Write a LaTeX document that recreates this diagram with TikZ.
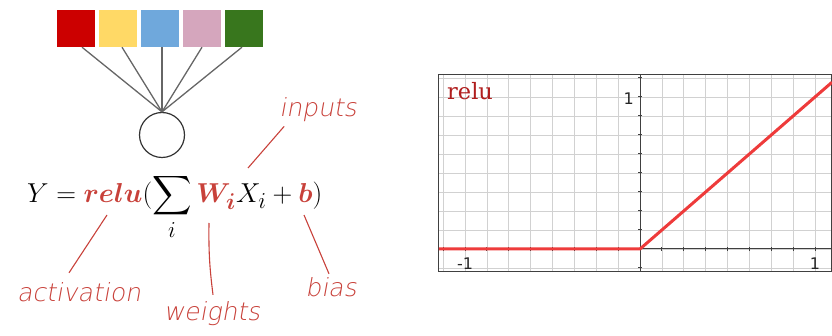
\documentclass[tikz,border=0pt]{standalone}
\usepackage{amsmath}
\usepackage{fontspec}
\newfontfamily\handfont[FakeSlant=0.18]{DejaVu Sans ExtraLight}
\newfontfamily\ticksfont{DejaVu Sans}
\newfontfamily\plotfont{DejaVu Serif}
\usetikzlibrary{calc}

\definecolor{sqred}{HTML}{CC0000}
\definecolor{sqyellow}{HTML}{FFD966}
\definecolor{sqblue}{HTML}{6FA8DC}
\definecolor{sqpink}{HTML}{D5A6BD}
\definecolor{sqgreen}{HTML}{38761D}
\definecolor{ink}{HTML}{C8413A}
\definecolor{plotred}{HTML}{EE3B3B}
\definecolor{titlered}{HTML}{B01E1E}

\begin{document}
\begin{tikzpicture}[x=1pt, y=-1pt,
  sq/.style={minimum width=38pt, minimum height=37pt, inner sep=0pt},
  wire/.style={draw=black!60, line width=1.3pt},
  unit/.style={draw=black!80, circle, line width=1.2pt, minimum size=45pt, inner sep=0pt},
  note/.style={font=\handfont\fontsize{25}{25}\selectfont, text=ink, anchor=base, inner sep=0pt},
  ptr/.style={draw=ink, line width=1.1pt},
  gridln/.style={draw=black!18, line width=0.6pt},
  axis/.style={draw=black!75, line width=1pt},
  relu/.style={draw=plotred, line width=3pt, line join=round},
  ticklbl/.style={font=\ticksfont\fontsize{16}{16}\selectfont, text=black!85, inner sep=0pt},
]
\useasboundingbox (0,0) rectangle (832,336);

% neuron with its five inputs
\foreach \c [count=\k] in {sqred,sqyellow,sqblue,sqpink,sqgreen}
  \node[sq, fill=\c] (s\k) at (34+42*\k, 28.5) {};
\node[unit] (neuron) at (162,135) {};
\foreach \k in {1,...,5}
  \draw[wire] ([xshift={8-2*\k}]s\k.south) -- (neuron.north);

% formula
\node[anchor=base west, inner sep=0pt, scale=1.1, font=\fontsize{24.88}{30}\selectfont] (eq) at (27,203)
  {$\displaystyle Y = \textcolor{ink}{\boldsymbol{relu}}(\sum_i \textcolor{ink}{\boldsymbol{W_i}} X_i + \textcolor{ink}{\boldsymbol{b}})$};
\coordinate (c-act) at (107,215);
\coordinate (c-wt) at (209,223);
\coordinate (c-in) at (248,168);
\coordinate (c-b) at (304,215);

% hand notes
\node[note] (n-in) at (318,117) {inputs};
\node[note] (n-act) at (79,302) {activation};
\node[note] (n-wt) at (212,320) {weights};
\node[note] (n-b) at (331,297) {bias};
\draw[ptr] ($(n-in.south west)+(5,4)$) -- (c-in);
\draw[ptr] (c-act) -- ($(n-act.north)+(-10,-10)$);
\draw[ptr] (c-wt) to[bend right=4] ($(n-wt.north)+(1,-6)$);
\draw[ptr] (c-b) -- ($(n-b.north)+(-2,-4)$);

% relu plot
\begin{scope}[shift={(640,249)}, x=175pt, y=152pt]
  \foreach \i in {-9,...,8}
    \draw[gridln] (\i/8,-0.151) -- (\i/8,1.151);
  \foreach \j in {-1,...,9}
    \draw[gridln] (-1.149,\j/8) -- (1.097,\j/8);
  \draw[axis] (-1.149,-0.151) rectangle (1.097,1.151);
  \draw[axis] (-1.149,0) -- (1.097,0);
  \draw[axis] (0,-0.151) -- (0,1.151);
  \foreach \i in {-9,...,8}
    \draw[axis] (\i/8,0) ++(0,-2pt) -- ++(0,4pt);
  \foreach \j in {-1,...,9}
    \draw[axis] (0,\j/8) ++(-2pt,0) -- ++(4pt,0);
  \draw[relu] (-1.149,0) -- (0,0) -- (1.097,1.097);
  \node[ticklbl, anchor=east] (y1) at ([xshift=-6pt,yshift=-2pt]0,1) {1};
  \node[ticklbl, anchor=north] (xm1) at ([yshift=-9pt]-1,0) {-1};
  \node[ticklbl, anchor=north] (x1) at ([yshift=-9pt]1,0) {1};
\end{scope}
\node[anchor=base west, inner sep=0pt, text=titlered, font=\plotfont\fontsize{22.5}{25}\selectfont] (title) at (447,100) {relu};
\end{tikzpicture}
\end{document}
